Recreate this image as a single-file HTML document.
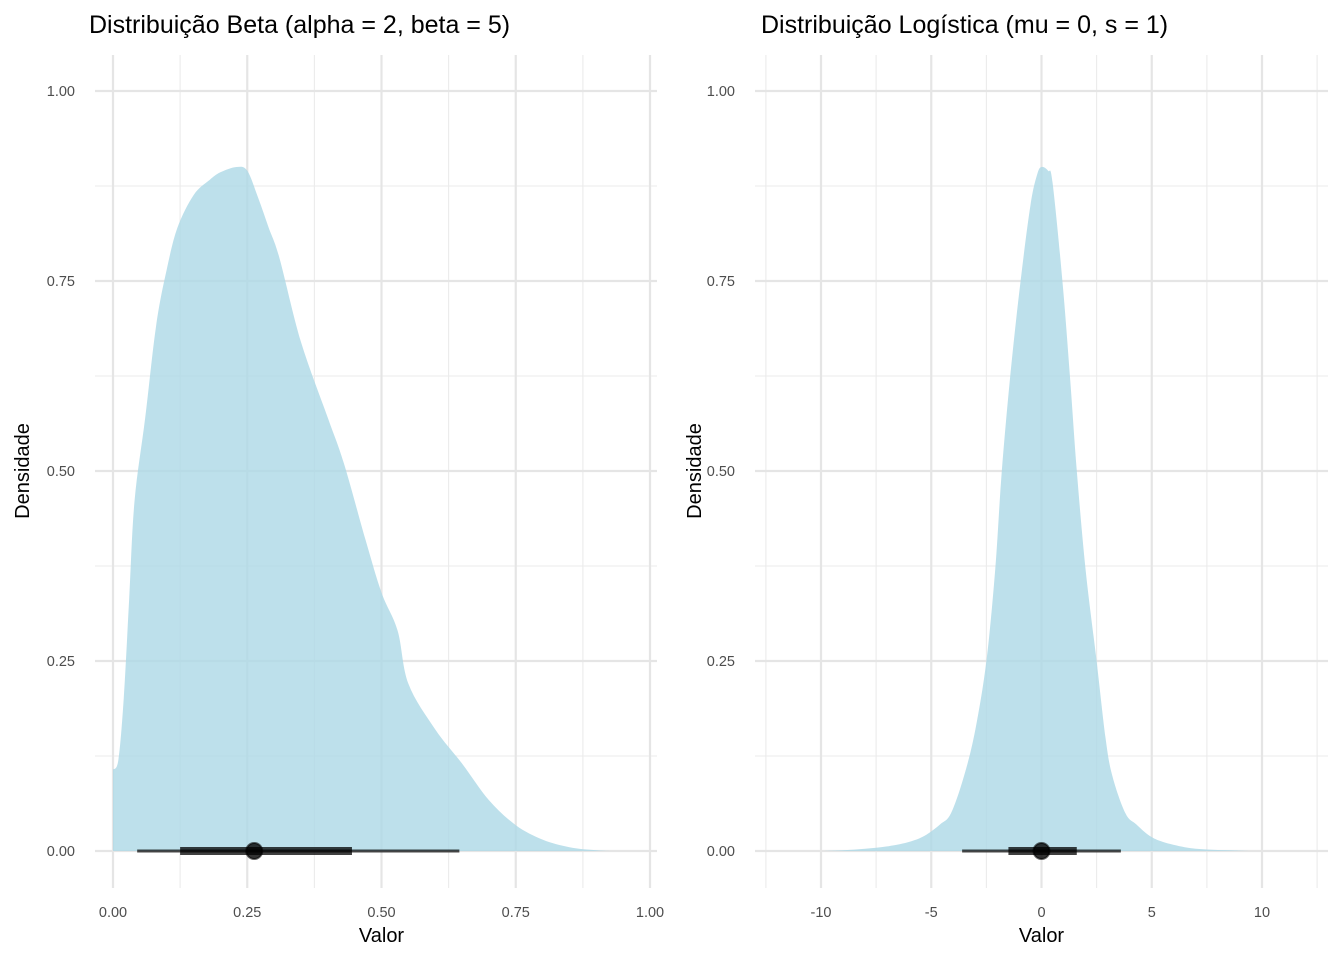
<!DOCTYPE html>
<html><head><meta charset="utf-8"><style>
html,body{margin:0;padding:0;background:#fff;}
svg text{font-family:"Liberation Sans",sans-serif;}
</style></head><body>
<svg id="c" width="1344" height="960" xmlns="http://www.w3.org/2000/svg"></svg>
<script>
// Beta panel data
const betaX=[0,0.01,0.02,0.03,0.04,0.06,0.08,0.1,0.12,0.15,0.18,0.2,0.23,0.25,0.27,0.29,0.31,0.35,0.4,0.43,0.47,0.5,0.53,0.55,0.6,0.65,0.7,0.75,0.8,0.85,0.9,0.93];
const betaY=[0.107,0.12,0.2,0.33,0.46,0.57,0.69,0.765,0.82,0.863,0.883,0.893,0.9,0.895,0.86,0.82,0.78,0.67,0.57,0.51,0.41,0.34,0.29,0.22,0.16,0.115,0.067,0.034,0.015,0.005,0.001,0];
const betaInterval=[0.045,0.125,0.263,0.445,0.645]; // thin lo, thick lo, point, thick hi, thin hi
// Logistic panel data
const logX=[-10,-9,-8,-7,-6,-5.3,-4.6,-4.1,-3.5,-3,-2.5,-2.1,-1.8,-1.4,-0.95,-0.5,-0.2,0,0.3,0.5,0.95,1.3,1.6,2,2.5,2.9,3.2,3.8,4.3,4.9,5.5,6.5,7.5,8.5,9.5];
const logY=[0,0.001,0.003,0.006,0.012,0.02,0.035,0.05,0.1,0.16,0.25,0.37,0.5,0.63,0.75,0.85,0.89,0.9,0.895,0.88,0.75,0.62,0.5,0.37,0.25,0.15,0.1,0.05,0.035,0.02,0.012,0.005,0.002,0.001,0];
const logInterval=[-3.6,-1.5,0,1.6,3.6];
const yTicks=[0,0.25,0.5,0.75,1];
const yTickLabels=["0.00","0.25","0.50","0.75","1.00"];
const betaTicks=[0,0.25,0.5,0.75,1];
const betaTickLabels=["0.00","0.25","0.50","0.75","1.00"];
const logTicks=[-10,-5,0,5,10];
const logTickLabels=["-10","-5","0","5","10"];

const svg=document.getElementById('c');
const NS="http://www.w3.org/2000/svg";
function mk(tag,attrs,parent){const e=document.createElementNS(NS,tag);for(const k in attrs)e.setAttribute(k,attrs[k]);(parent||svg).appendChild(e);return e;}
const yS=v=>851-v*760;

function smoothPath(pts){
  let d='';
  for(let i=0;i<pts.length-1;i++){
    const p0=pts[Math.max(0,i-1)],p1=pts[i],p2=pts[i+1],p3=pts[Math.min(pts.length-1,i+2)];
    const c1x=p1[0]+(p2[0]-p0[0])/6,c1y=p1[1]+(p2[1]-p0[1])/6;
    const c2x=p2[0]-(p3[0]-p1[0])/6,c2y=p2[1]-(p3[1]-p1[1])/6;
    d+=' C'+c1x.toFixed(1)+','+c1y.toFixed(1)+' '+c2x.toFixed(1)+','+c2y.toFixed(1)+' '+p2[0].toFixed(1)+','+p2[1].toFixed(1);
  }
  return d;
}

function panel(cfg){
  const g=mk('g',{});
  
  
  const xS=v=>cfg.x0+(v-cfg.d0)*(cfg.x1-cfg.x0)/(cfg.d1-cfg.d0);
  for(let i=0;i<yTicks.length-1;i++){const v=(yTicks[i]+yTicks[i+1])/2;mk('line',{x1:cfg.left,x2:cfg.right,y1:yS(v),y2:yS(v),stroke:'#ebebeb','stroke-width':1.1},g);}
  const step=cfg.ticks[1]-cfg.ticks[0];
  for(let i=-1;i<cfg.ticks.length;i++){const a=i<0?cfg.ticks[0]-step:cfg.ticks[i];const v=a+step/2;const px=xS(v);if(px<cfg.left-1||px>cfg.right+1)continue;mk('line',{x1:px,x2:px,y1:55,y2:888,stroke:'#ebebeb','stroke-width':1.1},g);}
  yTicks.forEach((v,i)=>{mk('line',{x1:cfg.left,x2:cfg.right,y1:yS(v),y2:yS(v),stroke:'#e5e5e5','stroke-width':2.2},g);
    const t=mk('text',{x:cfg.left-20,y:yS(v)+5,'text-anchor':'end','font-size':14.5,fill:'#4d4d4d'},g);t.textContent=yTickLabels[i];
    });
  cfg.ticks.forEach((v,i)=>{mk('line',{x1:xS(v),x2:xS(v),y1:55,y2:888,stroke:'#e5e5e5','stroke-width':2.2},g);
    const t=mk('text',{x:xS(v),y:917,'text-anchor':'middle','font-size':14.5,fill:'#4d4d4d'},g);t.textContent=cfg.tickLabels[i];
    });
  const pts=cfg.xs.map((x,i)=>[xS(x),yS(cfg.ys[i])]);
  let d='M'+xS(cfg.xs[0])+','+yS(0)+' L'+pts[0][0]+','+pts[0][1]+smoothPath(pts)+' L'+xS(cfg.xs[cfg.xs.length-1])+','+yS(0)+'Z';
  const p=mk('path',{d:d,fill:'#add8e6','fill-opacity':0.8},g);
  
  const iv=cfg.iv;
  const l1=mk('line',{x1:xS(iv[0]),x2:xS(iv[4]),y1:851,y2:851,stroke:'#000','stroke-opacity':0.7,'stroke-width':3},g);
  
  const l2=mk('line',{x1:xS(iv[1]),x2:xS(iv[3]),y1:851,y2:851,stroke:'#000','stroke-opacity':0.75,'stroke-width':8},g);
  
  const c=mk('circle',{cx:xS(iv[2]),cy:851,r:8,fill:'#000','fill-opacity':0.8,stroke:'#000','stroke-opacity':0.6,'stroke-width':2},g);
  
  const ti=mk('text',{x:cfg.titleX,y:33,'font-size':25,fill:'#000'},g);ti.textContent=cfg.title;
  
  const xt=mk('text',{x:cfg.x0+(cfg.x1-cfg.x0)/2,y:942,'text-anchor':'middle','font-size':20,fill:'#000'},g);xt.textContent='Valor';
  
  const yt=mk('text',{x:0,y:0,'text-anchor':'middle','font-size':20,fill:'#000',transform:'translate('+cfg.ytX+',471) rotate(-90)'},g);yt.textContent='Densidade';
  
}
panel({name:'beta-panel',left:95,right:657,x0:113,x1:650,d0:0,d1:1,ticks:betaTicks,tickLabels:betaTickLabels,xs:betaX,ys:betaY,iv:betaInterval,title:'Distribuição Beta (alpha = 2, beta = 5)',titleX:89,ytX:29});
panel({name:'logistic-panel',left:755,right:1328,x0:821,x1:1262,d0:-10,d1:10,ticks:logTicks,tickLabels:logTickLabels,xs:logX,ys:logY,iv:logInterval,title:'Distribuição Logística (mu = 0, s = 1)',titleX:761,ytX:701});
</script>
</body></html>
